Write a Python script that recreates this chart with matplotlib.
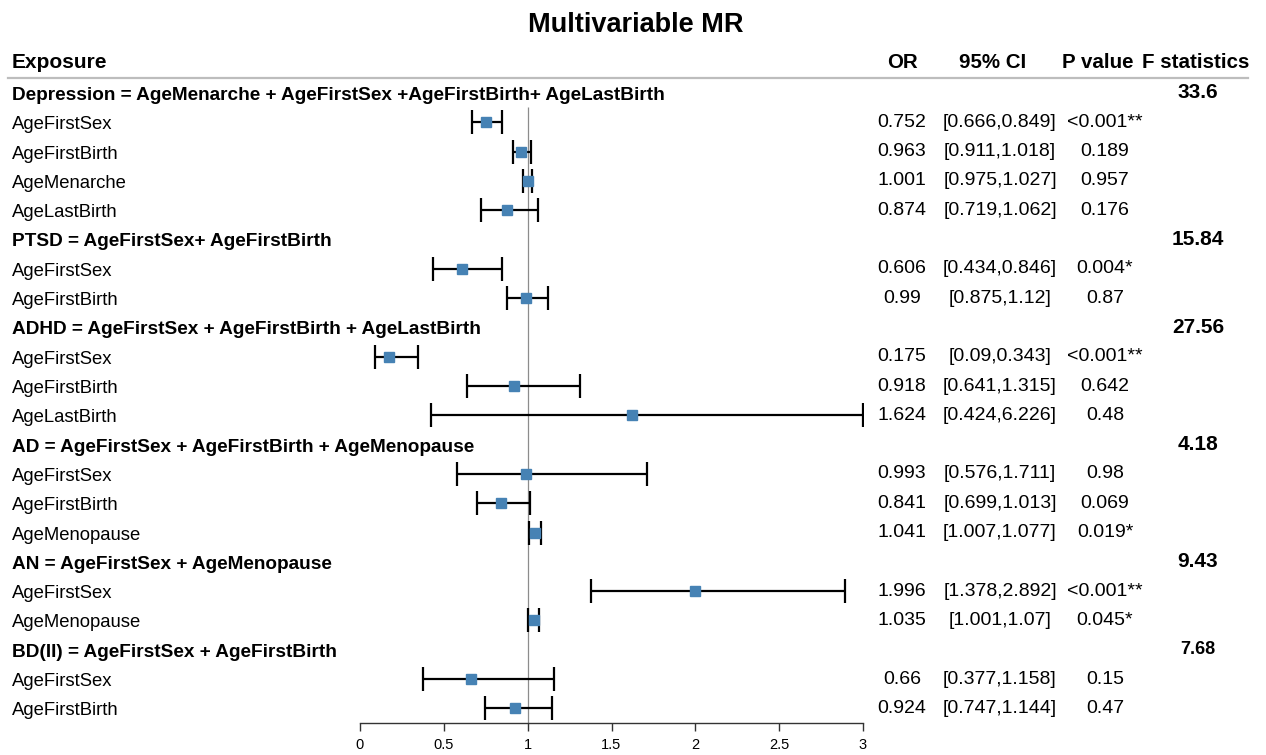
import matplotlib
matplotlib.use("Agg")
import matplotlib.pyplot as plt
import matplotlib.transforms as mtransforms
from matplotlib.lines import Line2D
import numpy as np

plt.rcParams['font.family'] = ['Liberation Sans', 'DejaVu Sans']

# ---------------- data ----------------
title = "Multivariable MR"
col_headers = ["Exposure", "OR", "95% CI", "P value", "F statistics"]

groups = [
    "Depression = AgeMenarche + AgeFirstSex +AgeFirstBirth+ AgeLastBirth",
    "PTSD = AgeFirstSex+ AgeFirstBirth",
    "ADHD = AgeFirstSex + AgeFirstBirth + AgeLastBirth",
    "AD = AgeFirstSex + AgeFirstBirth + AgeMenopause",
    "AN = AgeFirstSex + AgeMenopause",
    "BD(II) = AgeFirstSex + AgeFirstBirth",
]
f_stats = ["33.6", "15.84", "27.56", "4.18", "9.43", "7.68"]
group_sizes = [4, 2, 3, 3, 2, 2]

exposures = [
    "AgeFirstSex", "AgeFirstBirth", "AgeMenarche", "AgeLastBirth",
    "AgeFirstSex", "AgeFirstBirth",
    "AgeFirstSex", "AgeFirstBirth", "AgeLastBirth",
    "AgeFirstSex", "AgeFirstBirth", "AgeMenopause",
    "AgeFirstSex", "AgeMenopause",
    "AgeFirstSex", "AgeFirstBirth",
]
or_vals = [0.752, 0.963, 1.001, 0.874,
           0.606, 0.99,
           0.175, 0.918, 1.624,
           0.993, 0.841, 1.041,
           1.996, 1.035,
           0.66, 0.924]
ci_low = [0.666, 0.911, 0.975, 0.719,
          0.434, 0.875,
          0.09, 0.641, 0.424,
          0.576, 0.699, 1.007,
          1.378, 1.001,
          0.377, 0.747]
ci_high = [0.849, 1.018, 1.027, 1.062,
           0.846, 1.12,
           0.343, 1.315, 6.226,
           1.711, 1.013, 1.077,
           2.892, 1.07,
           1.158, 1.144]
p_labels = ["<0.001**", "0.189", "0.957", "0.176",
            "0.004*", "0.87",
            "<0.001**", "0.642", "0.48",
            "0.98", "0.069", "0.019*",
            "<0.001**", "0.045*",
            "0.15", "0.47"]
x_ticks = [0, 0.5, 1, 1.5, 2, 2.5, 3]
x_tick_labels = ["0", "0.5", "1", "1.5", "2", "2.5", "3"]

# ---------------- layout ----------------
W, H = 1266, 755
ROW0_PX, ROW_STEP_PX = 93.0, 29.3
AX_LEFT_PX, AX_RIGHT_PX = 360.0, 863.0
AXIS_PX = 723.0


def prow(px):
    return (px - ROW0_PX) / ROW_STEP_PX


fig = plt.figure(figsize=(W / 100, H / 100), dpi=100)
ax = fig.add_axes([AX_LEFT_PX / W, 0, (AX_RIGHT_PX - AX_LEFT_PX) / W, 1])
ax.set_xlim(x_ticks[0], x_ticks[-1])
ax.set_ylim(prow(H), prow(0))
ax.patch.set_alpha(0)

trans = mtransforms.blended_transform_factory(fig.transFigure, ax.transData)

# assign rows
group_rows = []
item_rows = []
r = 0
for g, n in zip(groups, group_sizes):
    group_rows.append(r)
    r += 1
    for _ in range(n):
        item_rows.append(r)
        r += 1
item_rows = np.array(item_rows, dtype=float)

or_arr = np.array(or_vals)
lo = np.array(ci_low)
hi = np.minimum(np.array(ci_high), x_ticks[-1])

# reference line
ax.vlines(1, prow(107), prow(AXIS_PX), color="#8c8c8c", lw=0.9, zorder=1)

# error bars + markers
ax.errorbar(or_arr, item_rows, xerr=[or_arr - lo, hi - or_arr], fmt="none",
            ecolor="black", elinewidth=1.6, capsize=8.5, capthick=1.6, zorder=2)
ax.plot(or_arr, item_rows, linestyle="none", marker="s", markersize=7.2,
        color="#4682B4", mec="#4682B4", zorder=3)

# axis styling
for s in ["top", "left", "right"]:
    ax.spines[s].set_visible(False)
ax.spines["bottom"].set_position(("data", prow(AXIS_PX)))
ax.spines["bottom"].set_bounds(x_ticks[0], x_ticks[-1])
ax.spines["bottom"].set_color("#333333")
ax.spines["bottom"].set_linewidth(1.0)
ax.set_yticks([])
ax.set_xticks(x_ticks)
ax.set_xticklabels(x_tick_labels, fontsize=10.5)
ax.tick_params(axis="x", direction="out", length=6, width=1.0, color="#333333", pad=5)

# title
fig.text(636 / W, 1 - 25 / H, title, ha="center", va="center",
         fontsize=19.5, fontweight="bold")

# header
hdr_y = prow(62)
ax.text(12 / W, hdr_y, col_headers[0], transform=trans, ha="left", va="center",
        fontsize=15, fontweight="bold")
col_x = [902, 1000, 1105, 1198]
hdr_x = [903, 993, 1098, 1196]
for hx, h in zip(hdr_x, col_headers[1:]):
    ax.text(hx / W, hdr_y, h, transform=trans, ha="center", va="center",
            fontsize=14.8, fontweight="bold")

fig.add_artist(Line2D([8 / W, 1248 / W], [1 - 77.7 / H, 1 - 77.7 / H],
                      transform=fig.transFigure, color="#bdbdbd", lw=1.6))

TXT_OFF = 2.5 / ROW_STEP_PX
f_sizes = [15, 15, 15, 15, 15, 13]
for g, gr, fs, fsz in zip(groups, group_rows, f_stats, f_sizes):
    ax.text(12 / W, gr + TXT_OFF, g, transform=trans, ha="left", va="center",
            fontsize=13.7, fontweight="bold")
    ax.text(col_x[3] / W, gr, fs, transform=trans, ha="center", va="center",
            fontsize=fsz, fontweight="bold")

for name, rr, o, l, h, p in zip(exposures, item_rows, or_vals, ci_low, ci_high, p_labels):
    ax.text(12 / W, rr + TXT_OFF, name, transform=trans, ha="left", va="center",
            fontsize=13.3)
    ax.text(col_x[0] / W, rr, f"{o:g}", transform=trans, ha="center", va="center",
            fontsize=14)
    ax.text(col_x[1] / W, rr, f"[{l:g},{h:g}]", transform=trans, ha="center",
            va="center", fontsize=14)
    ax.text(col_x[2] / W, rr, p, transform=trans, ha="center", va="center",
            fontsize=14)

fig.savefig("out.png", dpi=100)
